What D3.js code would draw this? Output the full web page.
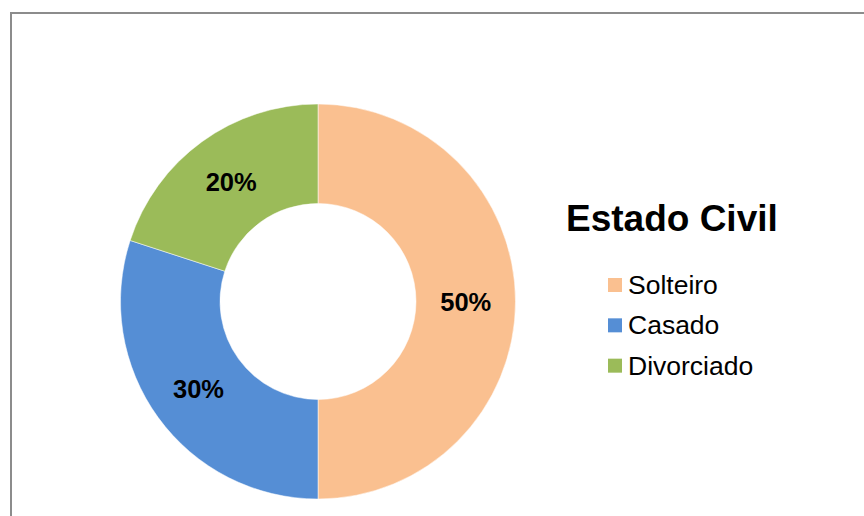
<!DOCTYPE html>
<html><head><meta charset="utf-8">
<script src="https://cdn.jsdelivr.net/npm/d3@7"></script>
<style>body{margin:0;background:#fff}svg{display:block}</style>
</head><body>
<svg id="c" width="864" height="516"></svg>
<script>
const categories = ["Solteiro", "Casado", "Divorciado"];
const values = [50, 30, 20];
const colors = ["#FAC090", "#558ED5", "#9BBB59"];
const title = "Estado Civil";

const svg = d3.select("#c");
svg.append("rect").attr("x", 11).attr("y", 13).attr("width", 900).attr("height", 600)
  .attr("fill", "#fff").attr("stroke", "#8c8c8c").attr("stroke-width", 2);

const cx = 318, cy = 301.5, R = 197.5, r = 98;
const data = categories.map((c, i) => ({cat: c, val: values[i], color: colors[i]}));
const pie = d3.pie().value(d => d.val).sort(null);
const arc = d3.arc().innerRadius(r).outerRadius(R);
const labelArc = d3.arc().innerRadius((r + R) / 2).outerRadius((r + R) / 2);
const g = svg.append("g").attr("transform", `translate(${cx},${cy})`);
const arcs = pie(data);
g.selectAll("path").data(arcs).enter().append("path")
  .attr("d", arc).attr("fill", d => d.data.color)
  .attr("stroke", "rgba(255,255,255,0.5)").attr("stroke-width", 1);
const total = d3.sum(values);
g.selectAll("text").data(arcs).enter().append("text")
  .attr("x", d => labelArc.centroid(d)[0])
  .attr("y", d => labelArc.centroid(d)[1])
  .attr("dy", "0.36em")
  .attr("text-anchor", "middle")
  .attr("font-family", "Liberation Sans, Arial, sans-serif")
  .attr("font-weight", "bold").attr("font-size", 25.5).attr("fill", "#000")
  .text(d => Math.round(d.data.val / total * 100) + "%");

svg.append("text").attr("x", 566).attr("y", 231)
  .attr("font-family", "Liberation Sans, Arial, sans-serif")
  .attr("font-weight", "bold").attr("font-size", 37).attr("fill", "#000")
  .text(title);

const ly = d3.scaleBand().domain(categories).range([265, 386]);
const leg = svg.selectAll("g.leg").data(data).enter().append("g").attr("class", "leg")
  .attr("transform", d => `translate(608,${ly(d.cat)})`);
leg.append("rect").attr("x", 0).attr("y", 13).attr("width", 14).attr("height", 14)
  .attr("fill", d => d.color);
leg.append("text").attr("x", 20).attr("y", 29)
  .attr("font-family", "Liberation Sans, Arial, sans-serif")
  .attr("font-size", 26.5).attr("fill", "#000")
  .text(d => d.cat);
</script>
</body></html>
